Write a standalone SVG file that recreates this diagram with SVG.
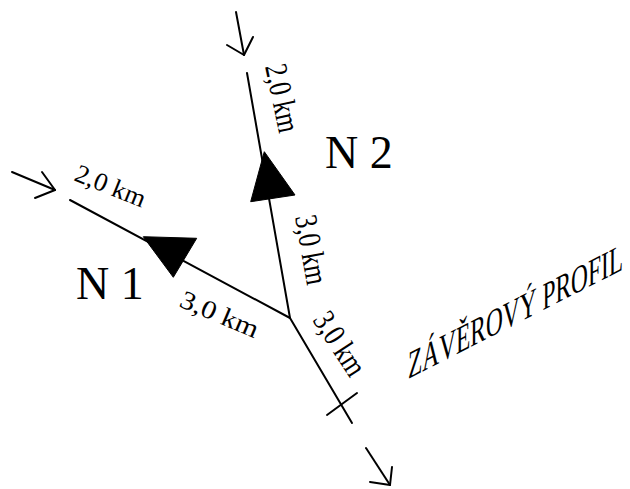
<svg xmlns="http://www.w3.org/2000/svg" width="630" height="489" viewBox="0 0 630 489">
<style>
.ln{stroke:#000;stroke-width:2;fill:none;stroke-linecap:round;stroke-linejoin:round}
.tri{fill:#000;stroke:#000;stroke-width:1}
.t{font-family:"Liberation Serif","Times New Roman",serif;fill:#000}
.lab{font-size:26px}
.lab2{font-size:32px}
.node{font-size:46px}
</style>
<rect width="630" height="489" fill="#fff"/>
<g id="connectors">
<line class="ln" x1="70" y1="200" x2="290" y2="318"/>
<line class="ln" x1="247" y1="73" x2="290" y2="318"/>
<line class="ln" x1="290" y1="318" x2="352" y2="423"/>
<line class="ln" x1="327" y1="415" x2="357" y2="393"/>
<g id="inflow-left">
<line class="ln" x1="12" y1="172" x2="55" y2="190"/>
<polyline class="ln" points="42,172 55,190 35,198"/>
</g>
<g id="inflow-top">
<line class="ln" x1="236" y1="12" x2="244" y2="55"/>
<polyline class="ln" points="227,45 244,55 253,37"/>
</g>
<g id="outflow">
<line class="ln" x1="366" y1="448" x2="390" y2="485"/>
<polyline class="ln" points="392,467 390,485 370,482"/>
</g>
</g>
<g id="N1">
<polygon class="tri" points="143.3,236.7 196.7,238.3 173.3,277.3"/>
<text class="t node" x="76" y="299">N 1</text>
</g>
<g id="N2">
<polygon class="tri" points="264.3,151.7 250.7,201.7 295,195"/>
<text class="t node" x="325" y="168">N 2</text>
</g>
<g id="labels">
<text class="t lab" transform="translate(73,180) rotate(22)" textLength="74" lengthAdjust="spacingAndGlyphs">2,0 km</text>
<text class="t lab" transform="translate(178,306) rotate(23)" textLength="83" lengthAdjust="spacingAndGlyphs">3,0 km</text>
<text class="t lab2" transform="translate(265,66.6) rotate(78)" textLength="69" lengthAdjust="spacingAndGlyphs">2,0 km</text>
<text class="t lab2" transform="translate(295,217) rotate(80)" textLength="70" lengthAdjust="spacingAndGlyphs">3,0 km</text>
<text class="t lab2" transform="translate(312,320) rotate(57)" textLength="70" lengthAdjust="spacingAndGlyphs">3,0 km</text>
</g>
<g id="profil">
<text class="t" font-size="39" transform="translate(408,379) skewY(-27) scale(0.6,1)">ZÁVĚROVÝ PROFIL</text>
</g>
</svg>
